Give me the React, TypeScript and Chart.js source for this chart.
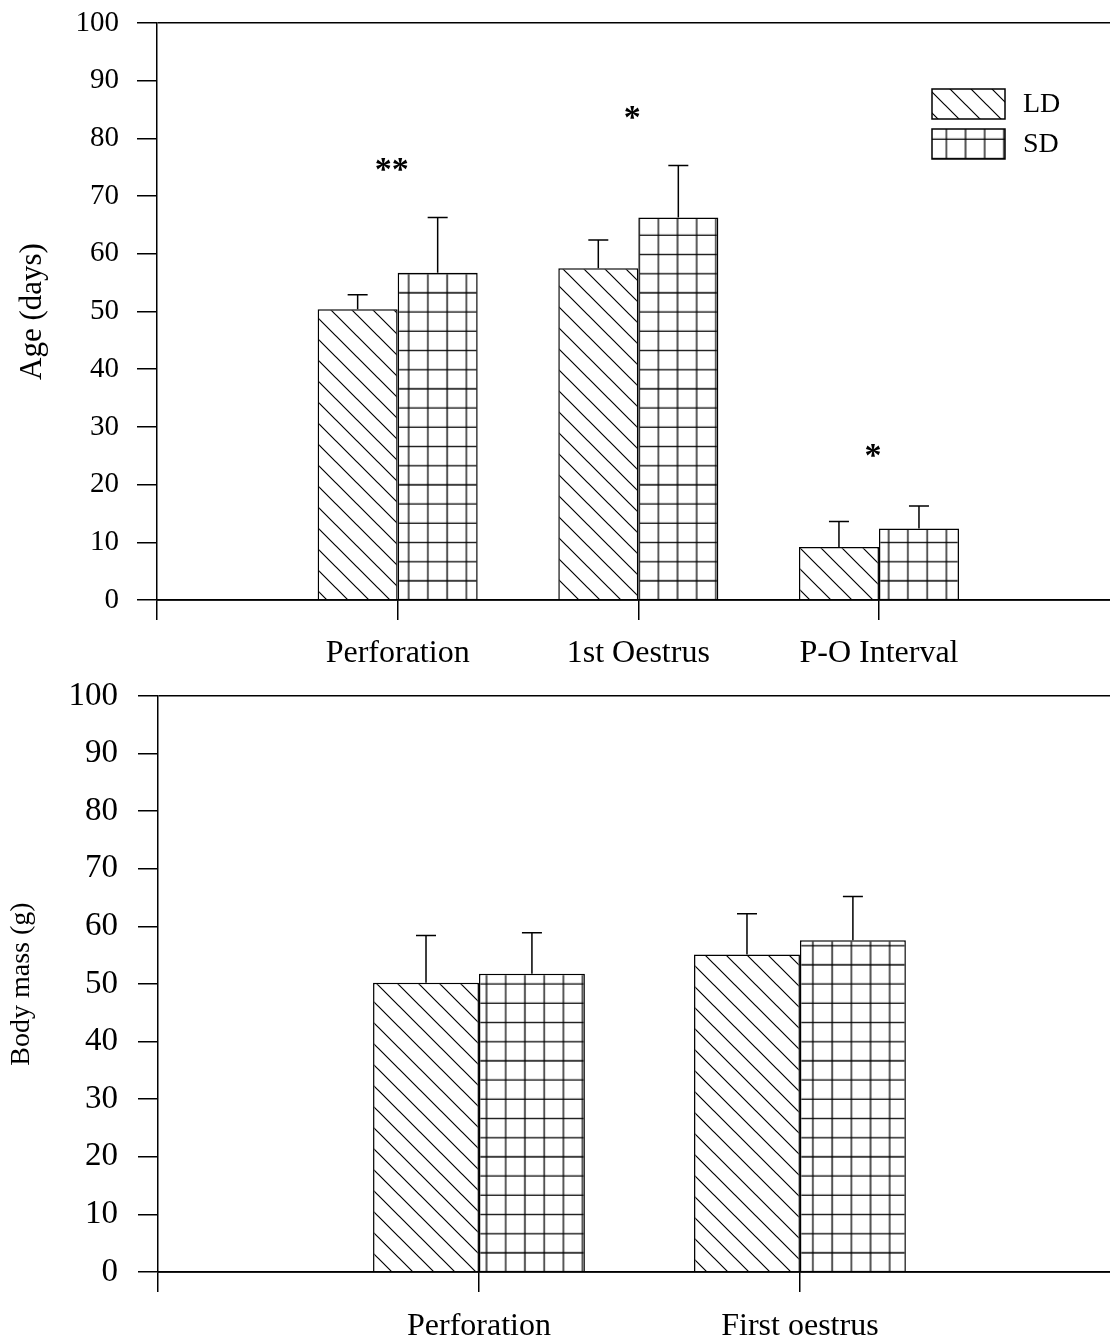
import React, { useEffect, useRef } from 'react';
import { Chart, registerables } from 'chart.js';

Chart.register(...registerables);

const FONT = "'Liberation Serif', 'Times New Roman', Times, serif";

// ---------- data ----------
const seriesNames = ['LD', 'SD'];

const ageCategories = ['Perforation', '1st Oestrus', 'P-O Interval'];
const ageLD = [50.4, 57.5, 9.2];
const ageLDErr = [2.5, 4.9, 4.4];
const ageSD = [56.7, 66.3, 12.4];
const ageSDErr = [9.6, 9.0, 3.9];
const ageSigLabels = ['**', '*', '*'];
const ageSigValues = [75.8, 84.7, 26.2];

const massCategories = ['Perforation', 'First oestrus'];
const massLD = [50.2, 55.1];
const massLDErr = [8.2, 7.1];
const massSD = [51.8, 57.6];
const massSDErr = [7.1, 7.6];

const yMin = 0;
const yMax = 100;
const yStep = 10;

// ---------- patterns ----------
const GRID = 19.2;

function makeHatch(): CanvasPattern {
  const s = 21;
  const c = document.createElement('canvas');
  c.width = s;
  c.height = s;
  const g = c.getContext('2d')!;
  g.fillStyle = '#fff';
  g.fillRect(0, 0, s, s);
  g.strokeStyle = '#000';
  g.lineWidth = 1.2;
  g.beginPath();
  g.moveTo(-3, -3);
  g.lineTo(s + 3, s + 3);
  g.moveTo(s - 4, -4);
  g.lineTo(s + 4, 4);
  g.moveTo(-4, s - 4);
  g.lineTo(4, s + 4);
  g.stroke();
  return g.createPattern(c, 'repeat')!;
}

function makeGrid(): CanvasPattern {
  const n = 5;
  const s = Math.round(GRID * n);
  const c = document.createElement('canvas');
  c.width = s;
  c.height = s;
  const g = c.getContext('2d')!;
  g.fillStyle = '#fff';
  g.fillRect(0, 0, s, s);
  g.strokeStyle = '#000';
  g.lineWidth = 1.3;
  g.beginPath();
  for (let k = 0; k <= n; k++) {
    const p = k * GRID;
    g.moveTo(p, 0);
    g.lineTo(p, s);
    g.moveTo(0, p);
    g.lineTo(s, p);
  }
  g.stroke();
  return g.createPattern(c, 'repeat')!;
}

interface PanelSpec {
  categories: string[];
  ld: number[];
  ldErr: number[];
  sd: number[];
  sdErr: number[];
  xMax: number;
  catPct: number;
  yTitle: string;
  tickFont: number;
  xFont: number;
  titleFont: number;
  titlePad: number;
  yLabelPad: number;
  xLabelPad: number;
  padTop: number;
  yWidth: number;
  xHeight: number;
  gridShiftX: number;
  sigLabels?: string[];
  sigValues?: number[];
  legend: boolean;
}

function buildChart(canvas: HTMLCanvasElement, spec: PanelSpec): Chart {
  const ldPat = makeHatch();
  const sdPat = makeGrid();
  const tickVals = [0, ...spec.categories.map((_, i) => i + 1)];

  const decor = {
    id: 'decor',
    afterLayout(chart: any) {
      const z = chart.scales.y.getPixelForValue(0);
      const ty = ((z % GRID) + GRID) % GRID;
      if ((sdPat as any).setTransform) {
        sdPat.setTransform(new DOMMatrix([1, 0, 0, 1, spec.gridShiftX, ty]));
      }
    },
    afterDatasetsDraw(chart: any) {
      const ctx: CanvasRenderingContext2D = chart.ctx;
      const xs = chart.scales.x;
      const ys = chart.scales.y;
      const area = chart.chartArea;
      ctx.save();
      ctx.strokeStyle = '#000';
      ctx.lineWidth = 1.5;
      // redraw baseline
      const z = ys.getPixelForValue(0);
      ctx.beginPath();
      ctx.moveTo(area.left, z);
      ctx.lineTo(area.right, z);
      ctx.stroke();
      // error bars (upper only)
      const vals = [spec.ld, spec.sd];
      const errs = [spec.ldErr, spec.sdErr];
      for (let d = 0; d < 2; d++) {
        const meta = chart.getDatasetMeta(d);
        meta.data.forEach((bar: any, j: number) => {
          const yTop = ys.getPixelForValue(vals[d][j] + errs[d][j]);
          ctx.beginPath();
          ctx.moveTo(bar.x, bar.y);
          ctx.lineTo(bar.x, yTop);
          ctx.moveTo(bar.x - 10, yTop);
          ctx.lineTo(bar.x + 10, yTop);
          ctx.stroke();
        });
      }
      // significance marks
      if (spec.sigLabels && spec.sigValues) {
        const fs = 34;
        ctx.fillStyle = '#000';
        ctx.font = `bold ${fs}px ${FONT}`;
        ctx.textAlign = 'center';
        ctx.textBaseline = 'alphabetic';
        spec.sigLabels.forEach((lab, i) => {
          const x = xs.getPixelForValue(i + 1) - 6;
          const y = ys.getPixelForValue(spec.sigValues![i]) + fs * 0.5;
          ctx.fillText(lab, x, y);
        });
      }
      // legend
      if (spec.legend) {
        const bw = 73;
        const bh = 30;
        const bx = area.right - 178;
        const pats = [ldPat, sdPat];
        ctx.font = `28px ${FONT}`;
        ctx.textAlign = 'left';
        ctx.textBaseline = 'middle';
        seriesNames.forEach((name, i) => {
          const by = area.top + 66 + i * 40;
          ctx.fillStyle = pats[i];
          ctx.fillRect(bx, by, bw, bh);
          ctx.lineWidth = 1.5;
          ctx.strokeRect(bx, by, bw, bh);
          ctx.fillStyle = '#000';
          ctx.fillText(name, bx + 91, by + bh / 2 + 1);
        });
      }
      ctx.restore();
    },
  };

  return new Chart(canvas, {
    type: 'bar',
    data: {
      datasets: [
        {
          label: seriesNames[0],
          data: spec.ld.map((v, i) => ({ x: i + 1, y: v })),
          backgroundColor: ldPat as any,
          borderColor: '#000',
          borderWidth: 1.5,
          categoryPercentage: spec.catPct,
          barPercentage: 1,
        },
        {
          label: seriesNames[1],
          data: spec.sd.map((v, i) => ({ x: i + 1, y: v })),
          backgroundColor: sdPat as any,
          borderColor: '#000',
          borderWidth: 1.5,
          categoryPercentage: spec.catPct,
          barPercentage: 1,
        },
      ],
    },
    options: {
      responsive: false,
      animation: false,
      events: [],
      layout: { padding: { top: spec.padTop, left: 0, right: 0, bottom: 0 } },
      plugins: {
        legend: { display: false },
        tooltip: { enabled: false },
      },
      scales: {
        x: {
          type: 'linear',
          min: 0,
          max: spec.xMax,
          offset: false,
          afterBuildTicks: (s: any) => {
            s.ticks = tickVals.map((v) => ({ value: v }));
          },
          afterFit: (s: any) => {
            s.height = spec.xHeight;
            s.paddingLeft = 0;
            s.paddingRight = 0;
          },
          grid: {
            display: true,
            drawOnChartArea: false,
            drawTicks: true,
            tickLength: 20,
            color: '#000',
            lineWidth: 1.5,
            offset: false,
          },
          border: { display: true, color: '#000', width: 1.5 },
          ticks: {
            autoSkip: false,
            maxRotation: 0,
            minRotation: 0,
            padding: spec.xLabelPad,
            color: '#000',
            font: { family: FONT, size: spec.xFont },
            callback: (v: any) => spec.categories[Number(v) - 1] ?? '',
          },
        },
        y: {
          type: 'linear',
          min: yMin,
          max: yMax,
          afterFit: (s: any) => {
            s.width = spec.yWidth;
            s.paddingTop = 0;
            s.paddingBottom = 0;
          },
          ticks: {
            stepSize: yStep,
            padding: spec.yLabelPad,
            color: '#000',
            font: { family: FONT, size: spec.tickFont },
          },
          grid: {
            drawTicks: true,
            tickLength: 20,
            lineWidth: 1.5,
            color: (c: any) => (c.tick && c.tick.value === yMax ? '#000' : 'rgba(0,0,0,0)'),
            tickColor: '#000',
          },
          border: { display: true, color: '#000', width: 1.5 },
          title: {
            display: true,
            text: spec.yTitle,
            color: '#000',
            font: { family: FONT, size: spec.titleFont },
            padding: { top: spec.titlePad, bottom: 0 },
          },
        },
      },
    } as any,
    plugins: [decor as any],
  });
}

const topSpec: PanelSpec = {
  categories: ageCategories,
  ld: ageLD,
  ldErr: ageLDErr,
  sd: ageSD,
  sdErr: ageSDErr,
  xMax: 3.96,
  catPct: 0.665,
  yTitle: 'Age (days)',
  tickFont: 29,
  xFont: 32,
  titleFont: 31,
  titlePad: 14,
  yLabelPad: 18,
  xLabelPad: 14,
  padTop: 23,
  yWidth: 157,
  xHeight: 70,
  gridShiftX: 5.5,
  sigLabels: ageSigLabels,
  sigValues: ageSigValues,
  legend: true,
};

const bottomSpec: PanelSpec = {
  categories: massCategories,
  ld: massLD,
  ldErr: massLDErr,
  sd: massSD,
  sdErr: massSDErr,
  xMax: 2.966,
  catPct: 0.66,
  yTitle: 'Body mass (g)',
  tickFont: 33,
  xFont: 32,
  titleFont: 28,
  titlePad: 5,
  yLabelPad: 20,
  xLabelPad: 15,
  padTop: 26,
  yWidth: 158,
  xHeight: 68,
  gridShiftX: 6.5,
  legend: false,
};

function Panel({ spec, top }: { spec: PanelSpec; top: number }) {
  const ref = useRef<HTMLCanvasElement>(null);
  useEffect(() => {
    const chart = buildChart(ref.current!, spec);
    return () => chart.destroy();
  }, [spec]);
  return (
    <canvas
      ref={ref}
      width={1110}
      height={670}
      style={{ position: 'absolute', left: 0, top, width: 1110, height: 670, display: 'block' }}
    />
  );
}

export default function App() {
  return (
    <div style={{ position: 'absolute', left: 0, top: 0, width: 1110, height: 1340, background: '#fff' }}>
      <Panel spec={topSpec} top={0} />
      <Panel spec={bottomSpec} top={670} />
    </div>
  );
}
